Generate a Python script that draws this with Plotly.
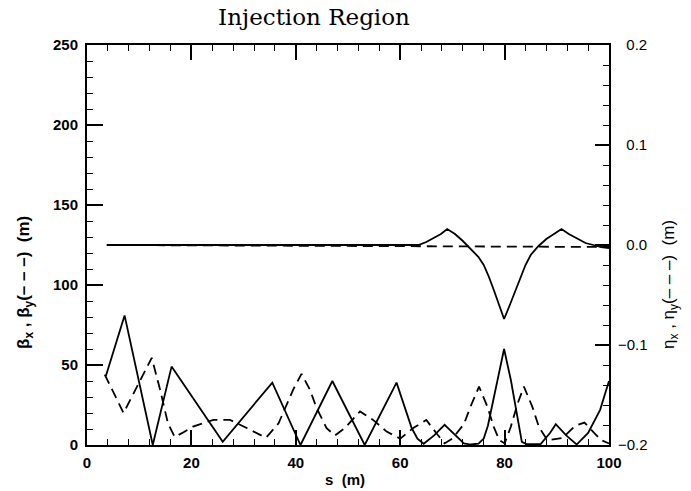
import plotly.graph_objects as go

# beta_x (solid)
s_bx = [3.6, 7.2, 12.6, 16.2, 26.0, 35.5, 40.9, 47.0, 53.2, 59.3, 62.2, 63.3, 64.5,
        66.5, 68.5, 70.5, 72.2, 73.5, 75.0, 76.0, 76.8, 79.9, 81.2, 83.3, 84.2, 86.9,
        88.7, 89.8, 91.8, 93.8, 96.0, 98.3, 99.6, 100.0]
beta_x = [43, 81, 0, 49, 2, 39, 0, 40, 0, 39, 10.6, 4, 0.8,
          6, 12.6, 6, 1, 0.3, 0.8, 4, 12, 60, 40.6, 2, 0.6, 0.6,
          7.5, 13, 6, 0.3, 7.5, 22, 36.5, 40]

# beta_y (dashed)
s_by = [3.4, 7.0, 12.4, 14.0, 15.5, 16.8, 18.5, 20.3, 24.2, 27.4, 30.6, 34.3, 36.7,
        39.5, 41.1, 42.7, 44.0, 45.9, 47.5, 49.4, 52.3, 54.8, 57.4, 60.0, 62.5, 65.0,
        66.9, 68.5, 70.0, 72.2, 73.6, 75.1, 76.7, 77.9, 79.0, 80.0, 81.2, 82.5, 83.7,
        85.3, 86.6, 88.2, 91.1, 93.5, 95.3, 97.0, 98.5, 100.0]
beta_y = [44, 20, 54.5, 34.6, 13.6, 5, 8, 11.5, 15.7, 15.7, 10.6, 4.5, 13.6,
          34.6, 44.5, 34.6, 23, 10.5, 6, 10.6, 21, 15.7, 8.4, 4, 10.6, 15.7,
          7.5, 1, 4, 13, 25, 36.5, 24, 11.5, 3, 1, 11.5, 26, 36.5,
          24, 11, 3, 4.4, 12, 14, 8, 3, 1]

# eta_x (solid)
s_ex = [3.8, 63.5, 65.0, 66.5, 67.8, 69.0, 70.5, 72.0, 73.5, 75.0, 76.0, 77.0, 78.0,
        79.0, 79.9, 81.0, 82.0, 83.0, 84.0, 85.0, 86.5, 88.0, 89.5, 90.9, 92.3, 94.0,
        95.5, 97.0, 98.5, 100.0]
eta_x = [0.0, 0.0, 0.003, 0.007, 0.011, 0.016, 0.011, 0.004, -0.004, -0.012, -0.020, -0.032, -0.046,
         -0.060, -0.074, -0.060, -0.046, -0.032, -0.020, -0.010, -0.001, 0.006, 0.011, 0.016, 0.011, 0.006,
         0.002, 0.0, -0.002, -0.003]

# eta_y (dashed)
s_ey = [3.8, 100.0]
eta_y = [0.0, -0.002]

eta_ticks = [-0.2, -0.1, 0.0, 0.1, 0.2]
eta_ticktext = ["\u22120.2", "\u22120.1", "\u20070.0", "\u20070.1", "\u20070.2"]

fig = go.Figure()
lw = 1.8
fig.add_trace(go.Scatter(x=s_bx, y=beta_x, mode="lines",
                         line=dict(color="black", width=lw), yaxis="y"))
fig.add_trace(go.Scatter(x=s_by, y=beta_y, mode="lines",
                         line=dict(color="black", width=lw, dash="10px,6px"), yaxis="y"))
fig.add_trace(go.Scatter(x=s_ey, y=eta_y, mode="lines",
                         line=dict(color="black", width=lw, dash="10px,6px"), yaxis="y2"))
fig.add_trace(go.Scatter(x=s_ex, y=eta_x, mode="lines",
                         line=dict(color="black", width=lw), yaxis="y2"))

bold = dict(family="Liberation Sans", size=15, color="black", weight="bold")
reg = dict(family="Liberation Sans", size=15, color="black")
bold_t = dict(family="Liberation Sans", size=17, color="black", weight="bold")
reg_t = dict(family="Liberation Sans", size=17, color="black")

fig.update_layout(
    width=691, height=491,
    margin=dict(l=87, r=82, t=45, b=46),
    paper_bgcolor="white", plot_bgcolor="white",
    showlegend=False,
    title=dict(text="Injection Region", x=314/691, xref="container", xanchor="center",
               y=1-17/491, yref="container", yanchor="middle",
               font=dict(family="DejaVu Serif", size=23, color="black")),
    xaxis=dict(range=[0, 100], tickvals=[0, 20, 40, 60, 80, 100], ticks="inside",
               ticklen=15, tickwidth=1.5, tickcolor="black",
               minor=dict(dtick=4, ticks="inside", ticklen=6, tickwidth=1.2, tickcolor="black"),
               showline=True, linecolor="black", linewidth=2, mirror="ticks",
               showgrid=False, zeroline=False, tickfont=bold, ticklabelstandoff=3),
    yaxis=dict(range=[0, 250], tickvals=[0, 50, 100, 150, 200, 250], ticks="inside",
               ticklen=16, tickwidth=1.5, tickcolor="black",
               minor=dict(dtick=10, ticks="inside", ticklen=6, tickwidth=1.2, tickcolor="black"),
               showline=True, linecolor="black", linewidth=2, mirror=False,
               showgrid=False, zeroline=False, tickfont=bold, ticklabelstandoff=4),
    yaxis2=dict(range=[-0.2, 0.2], overlaying="y", side="right",
                tickvals=eta_ticks, ticktext=eta_ticktext, ticks="inside",
                ticklen=14, tickwidth=1.5, tickcolor="black",
                minor=dict(dtick=0.02, ticks="inside", ticklen=6, tickwidth=1.2, tickcolor="black"),
                showline=True, linecolor="black", linewidth=2,
                showgrid=False, zeroline=False, tickfont=reg, ticklabelstandoff=4),
    annotations=[
        dict(text="<b>β<sub>x</sub> , β<sub>y</sub>(– – –)  (m)</b>", xref="paper", yref="paper",
             x=(25-87)/522, y=(445-283)/400, textangle=-90, showarrow=False,
             xanchor="center", yanchor="middle", font=bold_t),
        dict(text="η<sub>x</sub> , η<sub>y</sub>(– – –)  (m)", xref="paper", yref="paper",
             x=(670-87)/522, y=(445-285)/400, textangle=-90, showarrow=False,
             xanchor="center", yanchor="middle", font=reg_t),
        dict(text="<b>s  (m)</b>", xref="paper", yref="paper",
             x=(345-87)/522, y=(445-480)/400, showarrow=False,
             xanchor="center", yanchor="middle", font=bold),
    ],
)

fig.write_html("out.html")
